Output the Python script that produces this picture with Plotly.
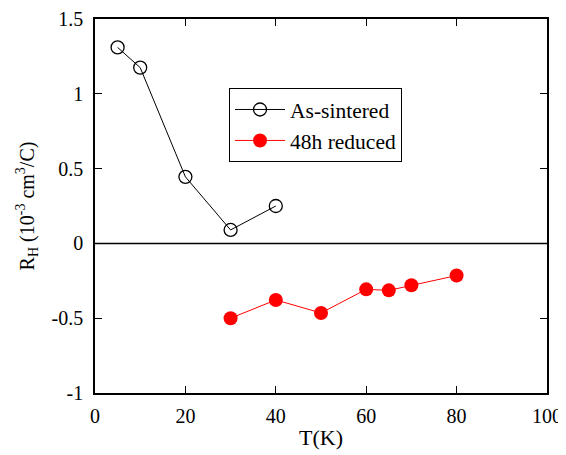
import plotly.graph_objects as go

t_sintered = [5, 10, 20, 30, 40]
rh_sintered = [1.31, 1.175, 0.445, 0.09, 0.25]
t_reduced = [30, 40, 50, 60, 65, 70, 80]
rh_reduced = [-0.50, -0.378, -0.465, -0.307, -0.314, -0.28, -0.215]

font = "Liberation Serif, Times New Roman, Times, serif"

fig = go.Figure()
fig.add_trace(go.Scatter(x=t_sintered, y=rh_sintered, mode="lines+markers", name="As-sintered",
                         line=dict(color="black", width=1),
                         marker=dict(symbol="circle-open", size=13, color="black", line=dict(width=1.3))))
fig.add_trace(go.Scatter(x=t_reduced, y=rh_reduced, mode="lines+markers", name="48h reduced",
                         line=dict(color="red", width=1),
                         marker=dict(symbol="circle", size=14, color="red")))

fig.add_shape(type="line", xref="paper", yref="y", x0=0, x1=1, y0=0, y1=0,
              line=dict(color="black", width=1.5))

axis_common = dict(showline=True, linecolor="black", linewidth=1.5, mirror="ticks",
                   ticks="inside", ticklen=7, tickcolor="black", tickwidth=1,
                   showgrid=False, zeroline=False, automargin=False,
                   tickfont=dict(family=font, size=20, color="black"))

fig.update_layout(
    width=558, height=447,
    margin=dict(l=87, r=19, t=11, b=62, autoexpand=False),
    plot_bgcolor="white", paper_bgcolor="white",
    font=dict(family=font, size=20, color="black"),
    xaxis=dict(range=[0, 100], tickvals=[0, 20, 40, 60, 80, 100], ticklabelstandoff=4,
               title=dict(text="T(K)", font=dict(family=font, size=22), standoff=4),
               **axis_common),
    yaxis=dict(range=[-1, 1.5], tickvals=[-1, -0.5, 0, 0.5, 1, 1.5],
               ticktext=["-1", "-0.5", "0", "0.5", "1", "1.5"], ticklabelstandoff=6,
               title=dict(text="R<sub>H</sub> (10<sup>-3</sup> cm<sup>3</sup>/C)", font=dict(family=font, size=20), standoff=12),
               **axis_common),
    legend=dict(x=0.2965, y=0.8155, xanchor="left", yanchor="top",
                bordercolor="black", borderwidth=1, bgcolor="white",
                font=dict(family=font, size=21.5), tracegroupgap=0, itemwidth=50),
    showlegend=True,
)

fig.write_html("out.html")
